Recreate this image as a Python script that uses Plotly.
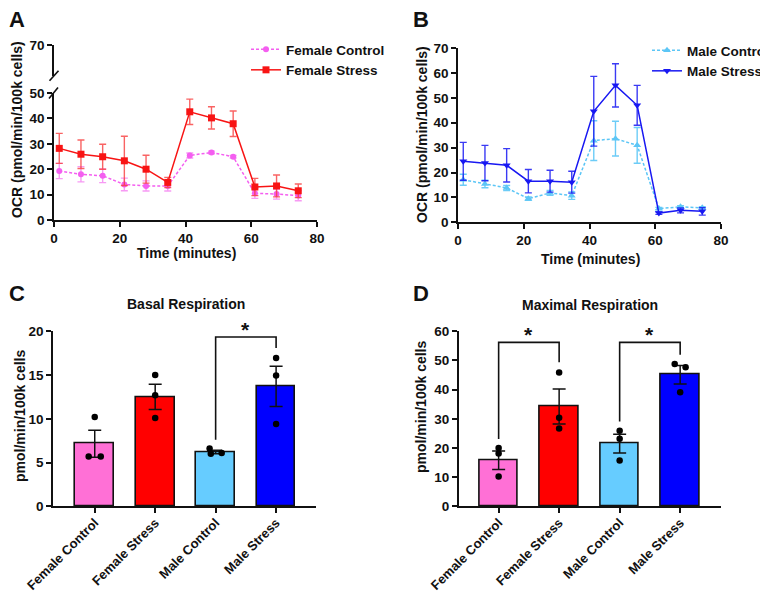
import plotly.graph_objects as go

# ---------------- data ----------------
time_min = [1.6, 8.2, 14.8, 21.4, 28.0, 34.6, 41.3, 47.9, 54.5, 61.1, 67.7, 74.3]

female_control = [19.3, 18.0, 17.4, 14.0, 13.4, 13.4, 25.4, 26.6, 24.9, 10.5, 10.2, 9.6]
female_control_sem = [3.0, 3.0, 2.7, 2.5, 2.0, 2.0, 1.0, 0.5, 0.5, 2.0, 2.0, 2.0]
female_stress = [28.2, 25.9, 24.9, 23.3, 20.0, 14.8, 42.6, 40.2, 37.9, 13.0, 13.4, 11.5]
female_stress_sem = [5.9, 5.6, 4.9, 9.7, 5.5, 2.0, 5.0, 4.4, 5.0, 3.4, 4.3, 2.7]

male_control = [17.1, 15.4, 13.8, 9.5, 11.8, 10.7, 32.8, 33.6, 30.9, 5.5, 6.2, 5.8]
male_control_sem = [2.2, 1.5, 1.0, 0.7, 1.0, 1.5, 8.0, 7.0, 7.2, 0.5, 0.5, 0.5]
male_stress = [24.5, 23.8, 22.9, 16.5, 16.5, 16.1, 44.6, 55.0, 47.0, 3.7, 4.8, 4.4]
male_stress_sem = [7.6, 7.1, 6.7, 4.7, 4.4, 4.4, 14.0, 8.7, 8.0, 0.5, 1.0, 1.5]

groups = ["Female Control", "Female Stress", "Male Control", "Male Stress"]
bar_colors = ["#FF70D6", "#FF0000", "#66CCFF", "#0000FF"]

basal_mean = [7.15, 12.5, 6.2, 13.7]
basal_sem = [1.55, 1.45, 0.2, 2.3]
basal_points = [[10.2, 5.7, 5.7], [15.0, 12.7, 10.1], [6.6, 6.0, 6.1], [16.95, 14.95, 9.4]]

maximal_mean = [15.8, 34.2, 21.5, 45.1]
maximal_sem = [3.2, 6.0, 3.2, 3.2]
maximal_points = [[20.0, 18.1, 10.2], [45.9, 30.4, 26.7], [25.9, 23.2, 15.7], [48.8, 47.7, 39.1]]

# ---------------- helpers ----------------
W, H = 768, 593
FONT = "Liberation Sans, Arial, sans-serif"


def fx(px):
    return px / W


def fy(py):
    return 1 - py / H


fig = go.Figure()


def line_trace(y, err, name, color, ecolor, symbol, dash, size, xa, ya, legend):
    return go.Scatter(
        x=time_min, y=y, name=name, mode="lines+markers",
        line=dict(color=color, width=1.5, dash=dash),
        marker=dict(symbol=symbol, size=size, color=color),
        error_y=dict(type="data", array=err, color=ecolor, thickness=1.4, width=3.5),
        xaxis=xa, yaxis=ya, legend=legend, cliponaxis=False,
    )


# Panel A
fig.add_trace(line_trace(female_control, female_control_sem, "Female Control", "#F45EF0",
                         "rgba(244,120,240,0.75)", "circle", "3px,2px", 6, "x", "y", "legend"))
fig.add_trace(line_trace(female_stress, female_stress_sem, "Female Stress", "#F81414",
                         "rgba(248,60,60,0.8)", "square", "solid", 7, "x", "y", "legend"))
# empty trace to create upper broken-axis segment
fig.add_trace(go.Scatter(x=[], y=[], xaxis="x", yaxis="y2", showlegend=False, hoverinfo="skip"))

# Panel B
fig.add_trace(line_trace(male_control, male_control_sem, "Male Control", "#5CC6F6",
                         "rgba(92,198,246,0.9)", "triangle-up", "3px,2px", 7, "x2", "y3", "legend2"))
fig.add_trace(line_trace(male_stress, male_stress_sem, "Male Stress", "#1818F2",
                         "rgba(24,24,242,0.85)", "triangle-down", "solid", 7, "x2", "y3", "legend2"))

# Bar panels
basal_offsets = [[0, -0.1, 0.1], [0, 0, 0], [-0.1, -0.08, 0.1], [0, 0, 0]]
max_offsets = [[0, 0, 0], [0, 0, 0], [0, 0, 0], [-0.09, 0.09, 0]]


def add_bar_panel(means, sems, points, offsets, xa, ya):
    idx = list(range(len(groups)))
    fig.add_trace(go.Bar(
        x=idx, y=means, width=0.64, marker=dict(color=bar_colors, line=dict(color="#111111", width=1.6)),
        error_y=dict(type="data", array=sems, color="#111111", thickness=1.5, width=6.5),
        xaxis=xa, yaxis=ya, showlegend=False,
    ))
    px, py = [], []
    for i, pts in enumerate(points):
        for j, v in enumerate(pts):
            px.append(i + offsets[i][j])
            py.append(v)
    fig.add_trace(go.Scatter(
        x=px, y=py, mode="markers", marker=dict(color="#000000", size=6.5),
        xaxis=xa, yaxis=ya, showlegend=False, cliponaxis=False,
    ))


add_bar_panel(basal_mean, basal_sem, basal_points, basal_offsets, "x3", "y4")
add_bar_panel(maximal_mean, maximal_sem, maximal_points, max_offsets, "x4", "y5")

# ---------------- axes ----------------
tickfont = dict(family=FONT, size=13.5, color="#111111", weight="bold")
catfont = dict(family=FONT, size=13, color="#111111", weight="bold")
axis_common = dict(showline=True, linecolor="#111111", linewidth=1.6, ticks="outside",
                   ticklen=5, tickwidth=1.6, tickcolor="#111111", showgrid=False,
                   zeroline=False, automargin=False)

fig.update_layout(
    template="none",
    width=W, height=H, margin=dict(l=0, r=0, t=0, b=0, autoexpand=False),
    paper_bgcolor="white", plot_bgcolor="white",
    font=dict(family=FONT, color="#111111"),
    bargap=0,
    xaxis=dict(domain=[fx(46), fx(309)], range=[0, 80], tickvals=[0, 20, 40, 60, 80], anchor="y",
               tickfont=tickfont, **axis_common),
    yaxis=dict(domain=[fy(212), fy(85)], range=[0, 50], tickvals=[0, 10, 20, 30, 40, 50], anchor="x",
               tickfont=tickfont, **axis_common),
    yaxis2=dict(domain=[fy(67.7), fy(37)], range=[70 - 30.7 / 2.54, 70], tickvals=[70], anchor="x",
                tickfont=tickfont, **axis_common),
    xaxis2=dict(domain=[fx(450), fx(713)], range=[0, 80], tickvals=[0, 20, 40, 60, 80], anchor="y3",
                tickfont=tickfont, **axis_common),
    yaxis3=dict(domain=[fy(214.3), fy(40)], range=[0, 70], dtick=10, anchor="x2",
                tickfont=tickfont, **axis_common),
    xaxis3=dict(domain=[fx(45), fx(308)], range=[-0.69, 3.66], tickvals=[0, 1, 2, 3], ticktext=groups,
                tickangle=-45, anchor="y4", tickfont=catfont, ticklabelstandoff=-3, **axis_common),
    yaxis4=dict(domain=[fy(498.3), fy(323.3)], range=[0, 20], dtick=5, anchor="x3",
                tickfont=tickfont, **axis_common),
    xaxis4=dict(domain=[fx(450.7), fx(712.7)], range=[-0.66, 3.67], tickvals=[0, 1, 2, 3], ticktext=groups,
                tickangle=-45, anchor="y5", tickfont=catfont, ticklabelstandoff=-3, **axis_common),
    yaxis5=dict(domain=[fy(498.3), fy(323.3)], range=[0, 60], dtick=10, anchor="x4",
                tickfont=tickfont, **axis_common),
    legend=dict(x=fx(238), y=fy(26), xanchor="left", yanchor="top", bgcolor="rgba(0,0,0,0)",
                font=dict(family=FONT, size=13.5, color="#111111", weight="bold"), itemwidth=30,
                tracegroupgap=0, borderwidth=0),
    legend2=dict(x=fx(639), y=fy(27), xanchor="left", yanchor="top", bgcolor="rgba(0,0,0,0)",
                 font=dict(family=FONT, size=13.5, color="#111111", weight="bold"), itemwidth=30,
                 tracegroupgap=0, borderwidth=0),
)

# ---------------- annotations ----------------
annots = []


def txt(x, y, text, size, angle=0):
    annots.append(dict(x=fx(x), y=fy(y), xref="paper", yref="paper", text=text, showarrow=False,
                       xanchor="center", yanchor="middle", textangle=angle,
                       font=dict(family=FONT, size=size, color="#111111", weight="bold")))


txt(9, 11, "A", 22)
txt(413, 11, "B", 22)
txt(9, 285, "C", 22)
txt(413, 285, "D", 22)
txt(9, 122, "OCR (pmol/min/100k cells)", 14, -90)
txt(414, 127, "OCR (pmol/min/100k cells)", 14, -90)
txt(178, 245, "Time (minutes)", 14)
txt(582, 251, "Time (minutes)", 14)
txt(178, 296, "Basal Respiration", 14)
txt(582, 297, "Maximal Respiration", 14)
txt(12, 408, "pmol/min/100k cells", 14, -90)
txt(413, 399, "pmol/min/100k cells", 14, -90)

# significance stars
annots.append(dict(x=2.5, y=19.35, xref="x3", yref="y4", text="*", showarrow=False, yanchor="bottom",
                   font=dict(family=FONT, size=21, color="#111111", weight="bold"), yshift=-6))
for xc in (0.5, 2.5):
    annots.append(dict(x=xc, y=56.2, xref="x4", yref="y5", text="*", showarrow=False, yanchor="bottom",
                       font=dict(family=FONT, size=21, color="#111111", weight="bold"), yshift=-6))
fig.update_layout(annotations=annots)

# ---------------- shapes ----------------
shapes = []


def bracket(xref, yref, x0, x1, ytop, yl, yr):
    shapes.append(dict(type="path", xref=xref, yref=yref,
                       path=f"M {x0},{yl} L {x0},{ytop} L {x1},{ytop} L {x1},{yr}",
                       line=dict(color="#111111", width=1.6)))


bracket("x3", "y4", 2, 3, 19.35, 7.6, 18.1)
bracket("x4", "y5", 0, 1, 56.2, 23.1, 49.4)
bracket("x4", "y5", 2, 3, 56.2, 29.1, 52.0)

# axis-break marks on panel A
for (x0, y0, x1, y1) in [(41.5, 72.7, 50.5, 62.7), (41.0, 90.5, 50.0, 79.5)]:
    shapes.append(dict(type="line", xref="paper", yref="paper", x0=fx(x0), y0=fy(y0), x1=fx(x1), y1=fy(y1),
                       line=dict(color="#111111", width=1.6)))
fig.update_layout(shapes=shapes)

fig.write_html("out.html")
